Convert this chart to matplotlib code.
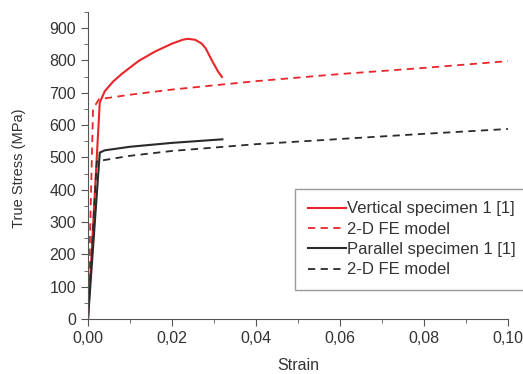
import matplotlib
matplotlib.use("Agg")
import matplotlib.pyplot as plt
from matplotlib.ticker import MultipleLocator, FuncFormatter

plt.rcParams['font.family'] = ['Liberation Sans', 'DejaVu Sans']

# Vertical specimen 1 [1] (experiment)
vert_strain = [0.0, 0.0028, 0.004, 0.006, 0.008, 0.012, 0.016, 0.020, 0.0225, 0.0238, 0.0255, 0.027, 0.028, 0.0295, 0.031, 0.0319]
vert_stress = [0, 670, 705, 735, 758, 798, 828, 852, 864, 867, 864, 853, 838, 800, 765, 749]

# Vertical 2-D FE model
vfe_strain = [0.0, 0.0012, 0.0026, 0.01, 0.02, 0.04, 0.06, 0.08, 0.10]
vfe_stress = [0, 650, 680, 694, 710, 736, 758, 777, 798]

# Parallel specimen 1 [1] (experiment)
par_strain = [0.0, 0.0028, 0.004, 0.01, 0.02, 0.032]
par_stress = [0, 515, 522, 533, 545, 556]

# Parallel 2-D FE model
pfe_strain = [0.0, 0.0021, 0.01, 0.02, 0.04, 0.06, 0.08, 0.10]
pfe_stress = [0, 488, 505, 520, 541, 557, 573, 588]

fig = plt.figure(figsize=(5.23, 3.74), dpi=100)
ax = fig.add_axes([88/523, 1 - 319/374, 420/523, 307/374])

red = '#e8262a'
dark = '#2a2a2a'
ax.plot(vert_strain, vert_stress, color=red, lw=1.5, label='Vertical specimen 1 [1]')
ax.plot(vfe_strain, vfe_stress, color=red, lw=1.3, ls=(0, (4, 3)), label='2-D FE model')
ax.plot(par_strain, par_stress, color=dark, lw=1.5, label='Parallel specimen 1 [1]')
ax.plot(pfe_strain, pfe_stress, color=dark, lw=1.3, ls=(0, (4, 3)), label='2-D FE model')

ax.set_xlim(0, 0.10)
ax.set_ylim(0, 950)
ax.xaxis.set_major_locator(MultipleLocator(0.02))
ax.xaxis.set_minor_locator(MultipleLocator(0.01))
ax.yaxis.set_major_locator(MultipleLocator(100))
ax.yaxis.set_minor_locator(MultipleLocator(50))
ax.xaxis.set_major_formatter(FuncFormatter(lambda v, p: f"{v:.2f}".replace('.', ',')))
ax.set_yticks(range(0, 901, 100))

for side in ['top', 'right']:
    ax.spines[side].set_visible(False)
for side in ['left', 'bottom']:
    ax.spines[side].set_color('#555555')
ax.tick_params(which='major', direction='out', length=5, color='#555555', labelsize=11.5, labelcolor='#333333')
ax.tick_params(which='minor', direction='out', length=3, color='#555555')

ax.set_xlabel('Strain', fontsize=11.5, color='#333333', labelpad=9)
ax.set_ylabel('True Stress (MPa)', fontsize=10.5, color='#333333')
ax.yaxis.set_label_coords(-0.148, 0.49)

leg = fig.legend(loc='upper left', bbox_to_anchor=(295/523, 1 - 189/374),
                 fontsize=12, handlelength=2.3, handletextpad=0.05,
                 borderpad=0.75, borderaxespad=0, labelspacing=0.32,
                 fancybox=False, edgecolor='#999999', framealpha=1)
for t in leg.get_texts():
    t.set_color('#333333')

fig.savefig('out.png', dpi=100)
